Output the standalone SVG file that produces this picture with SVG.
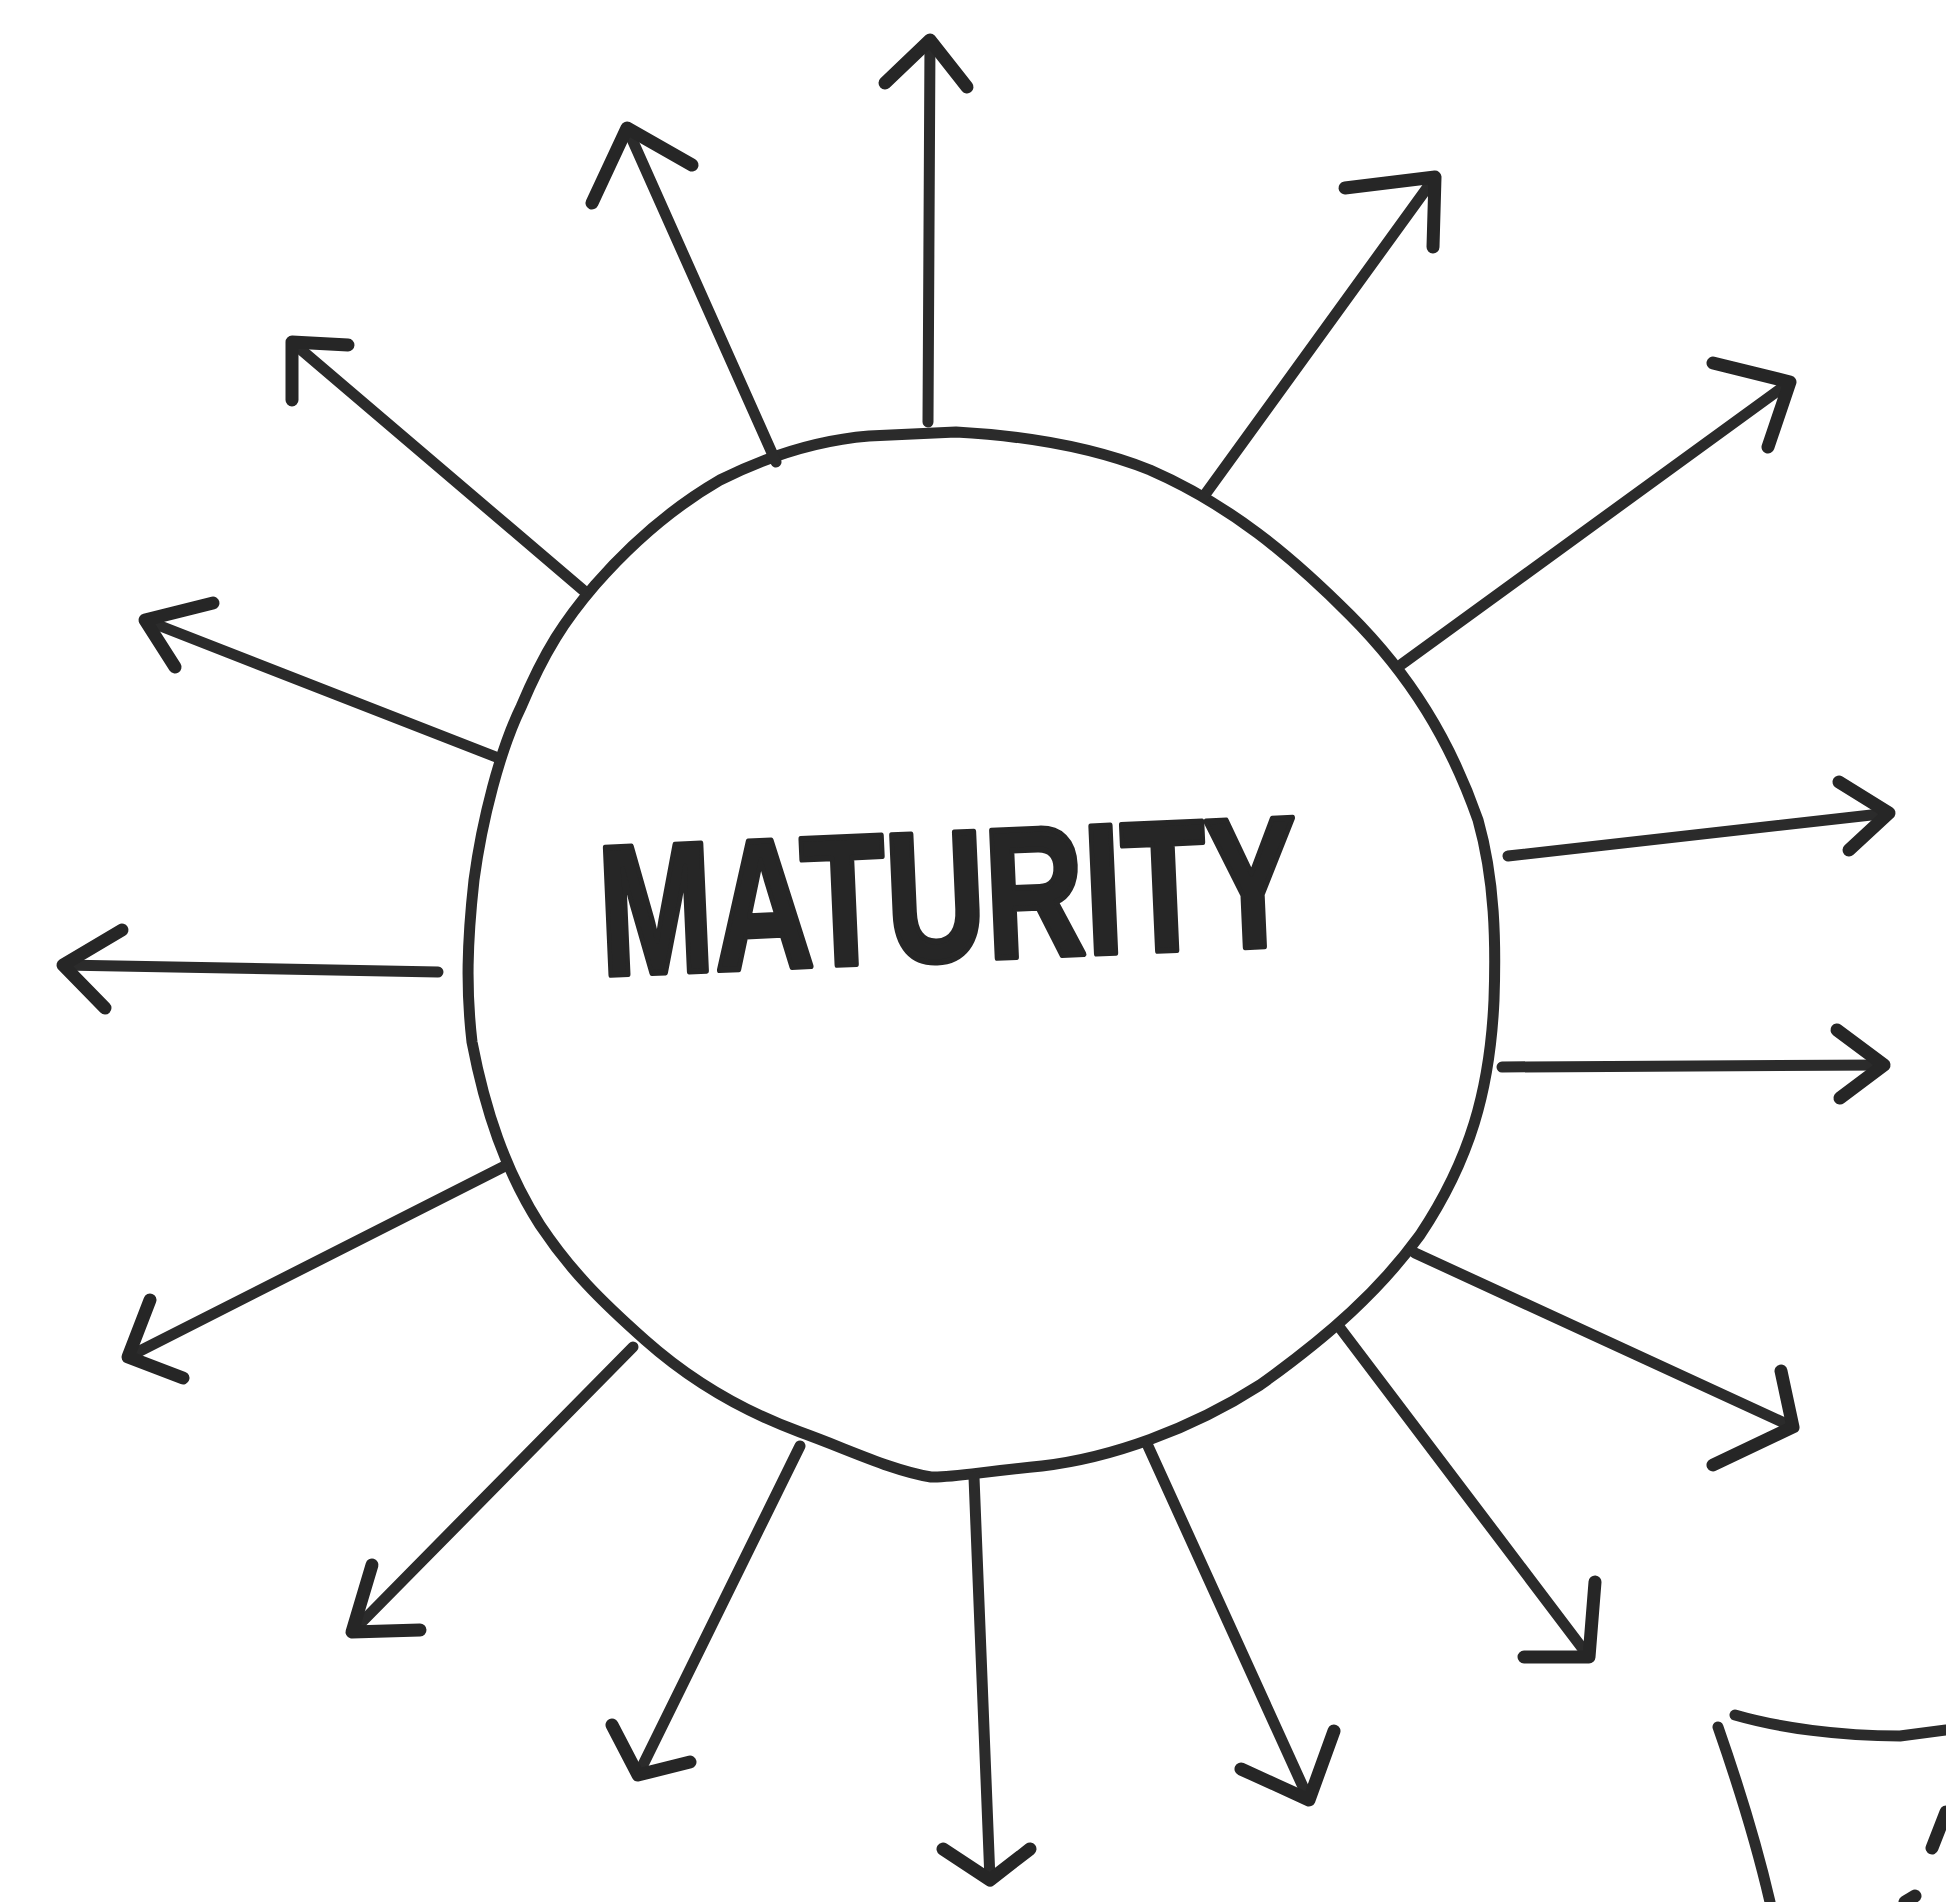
<svg xmlns="http://www.w3.org/2000/svg" width="1946" height="1902" viewBox="0 0 1946 1902">
<style>
.ink{fill:none;stroke:#2b2b2b;stroke-width:11;stroke-linecap:round;stroke-linejoin:round}
.head{fill:none;stroke:#262626;stroke-width:13;stroke-linecap:round;stroke-linejoin:round}
.lbl{font-family:"Liberation Sans",Arial,sans-serif;font-weight:bold;font-size:185px;fill:#262626;stroke:#262626;stroke-width:6;stroke-linejoin:round}
</style>
<rect width="1946" height="1902" fill="#ffffff"/>
<g id="maturity">
<path class="ink" d="M956,432 C1030,436 1092,447 1150,470 C1230,505 1290,555 1350,615 C1410,675 1450,740 1478,820 C1495,880 1496,943 1494,1000 C1490,1090 1470,1160 1420,1235 C1380,1290 1330,1335 1260,1385 C1190,1430 1110,1458 1042,1466 C980,1472 950,1478 931,1477 C890,1470 850,1450 800,1432 C740,1410 690,1380 645,1340 C600,1300 570,1270 540,1225 C505,1170 485,1110 472,1042 C466,990 467,943 474,880 C482,820 500,750 521,707 C545,650 565,620 595,585 C630,545 670,509 720,480 C770,455 820,440 869,436 Z"/>
<text class="lbl" x="948" y="960" text-anchor="middle" textLength="700" lengthAdjust="spacingAndGlyphs" transform="rotate(-2.5 948 890)">MATURITY</text>
</g>
<g id="connectors">
<g id="a1"><path class="ink" d="M928,422 L930,40"/><path class="head" d="M885,83 L930,40 L967,87"/></g>
<g id="a2"><path class="ink" d="M776,462 L627,128"/><path class="head" d="M592,203 L627,128 L692,165"/></g>
<g id="a3"><path class="ink" d="M583,590 L292,342"/><path class="head" d="M292,400 L292,342 L348,345"/></g>
<g id="a4"><path class="ink" d="M496,757 L145,620"/><path class="head" d="M213,603 L145,620 L175,667"/></g>
<g id="a5"><path class="ink" d="M438,972 L63,965"/><path class="head" d="M122,930 L63,965 L105,1008"/></g>
<g id="a6"><path class="ink" d="M503,1167 L128,1357"/><path class="head" d="M150,1300 L128,1357 L183,1378"/></g>
<g id="a7"><path class="ink" d="M633,1347 L352,1632"/><path class="head" d="M372,1565 L352,1632 L420,1630"/></g>
<g id="a8"><path class="ink" d="M800,1446 L638,1775"/><path class="head" d="M612,1725 L638,1775 L690,1762"/></g>
<g id="a9"><path class="ink" d="M974,1477 L990,1880"/><path class="head" d="M943,1849 L990,1880 L1030,1849"/></g>
<g id="a10"><path class="ink" d="M1148,1446 L1309,1800"/><path class="head" d="M1241,1769 L1309,1800 L1334,1731"/></g>
<g id="a11"><path class="ink" d="M1340,1328 L1589,1657"/><path class="head" d="M1524,1657 L1589,1657 L1595,1582"/></g>
<g id="a12"><path class="ink" d="M1415,1253 L1793,1427"/><path class="head" d="M1713,1465 L1793,1427 L1781,1371"/></g>
<g id="a13"><path class="ink" d="M1502,1067 L1884,1065"/><path class="head" d="M1837,1030 L1884,1065 L1840,1098"/></g>
<g id="a14"><path class="ink" d="M1508,856 L1889,813"/><path class="head" d="M1839,782 L1889,813 L1849,850"/></g>
<g id="a15"><path class="ink" d="M1402,664 L1790,382"/><path class="head" d="M1713,363 L1790,382 L1768,447"/></g>
<g id="a16"><path class="ink" d="M1204,496 L1435,177"/><path class="head" d="M1345,188 L1435,177 L1433,247"/></g>
</g>
<g id="corner">
<path class="ink" d="M1735,1715 C1780,1728 1840,1736 1900,1736 L1946,1730"/>
<path class="ink" d="M1718,1727 C1740,1790 1758,1850 1770,1902"/>
<path class="head" d="M1932,1848 L1946,1812"/>
<path class="head" d="M1905,1902 L1915,1896"/>
</g>
</svg>
